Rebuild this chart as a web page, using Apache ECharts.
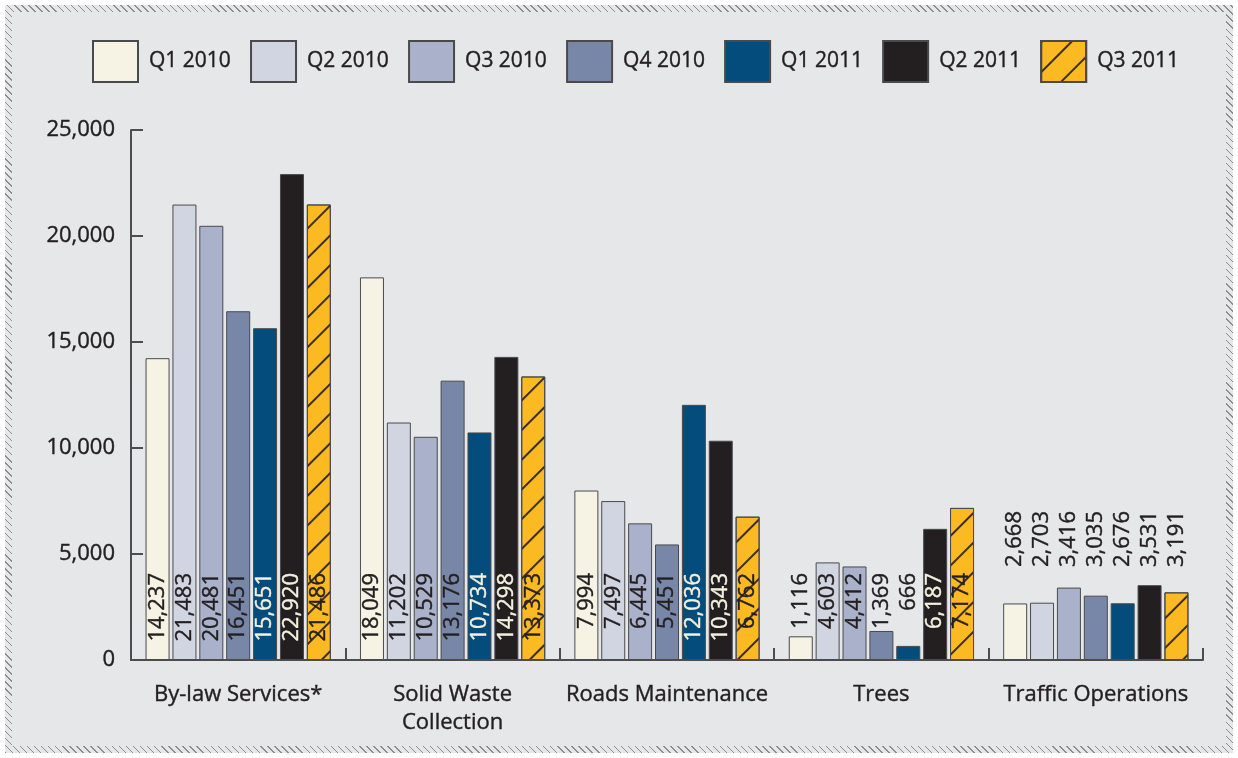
<!DOCTYPE html>
<html>
<head>
<meta charset="utf-8">
<script src="https://cdn.jsdelivr.net/npm/echarts@6/dist/echarts.min.js"></script>
<style>
  html, body { margin: 0; padding: 0; background: #ffffff; }
  #panel {
    position: absolute; left: 5px; top: 5px; width: 1228px; height: 748px;
    background: #e6e7e9;
  }
  #edge {
    position: absolute; left: 5px; top: 5px; width: 1228px; height: 748px;
    box-sizing: border-box;
    border: 7px solid transparent;
    border-image: repeating-linear-gradient(45deg, #8d8d8f 0 1px, transparent 1px 5px) 7;
  }
  #chart { position: absolute; left: 0; top: 0; width: 1238px; height: 758px; }
</style>
</head>
<body>
<div id="panel"></div>
<div id="edge"></div>
<div id="chart"></div>
<script>
// Service request counts by division, per quarter
const categories = ['By-law Services*', 'Solid Waste\nCollection', 'Roads Maintenance', 'Trees', 'Traffic Operations'];
const quarterNames = ['Q1 2010', 'Q2 2010', 'Q3 2010', 'Q4 2010', 'Q1 2011', 'Q2 2011', 'Q3 2011'];

const q1_2010 = [14237, 18049, 7994, 1116, 2668];
const q2_2010 = [21483, 11202, 7497, 4603, 2703];
const q3_2010 = [20481, 10529, 6445, 4412, 3416];
const q4_2010 = [16451, 13176, 5451, 1369, 3035];
const q1_2011 = [15651, 10734, 12036, 666, 2676];
const q2_2011 = [22920, 14298, 10343, 6187, 3531];
const q3_2011 = [21486, 13373, 6762, 7174, 3191];

const yMin = 0, yMax = 25000, yStep = 5000;

// Styling
const FONT = '"Open Sans", "Noto Sans", sans-serif';
const INK = '#231f20';
const CREAM = '#f4f0de';
const fills = ['#f6f3e4', '#d1d5e1', '#aab1cb', '#7886a8', '#034c7c', '#231f20', '#fbb922'];
const darkFill = [false, false, false, false, true, true, false];
// value-label anchor height above the baseline (px) and which end of the text sits there:
// 'hang' = text runs down from the anchor, 'stand' = text rises from the anchor
const labelAnchor = [87, 87, 87, 87, 93];
const labelMode = ['hang', 'hang', 'hang', 'hang', 'stand'];
const plotHeight = 530;

const quarterValues = [q1_2010, q2_2010, q3_2010, q4_2010, q1_2011, q2_2011, q3_2011];

const fmt = v => v.toLocaleString('en-US');

// slightly heavier glyphs via a hairline outline in the text's own colour
const ink = (color, extra) => Object.assign({
  fontFamily: FONT, color: color, textBorderColor: color, textBorderWidth: 0.4
}, extra || {});

const hatch = {
  symbol: 'rect',
  symbolSize: 1,
  dashArrayX: [1, 0],
  dashArrayY: [2, 19],
  rotation: -Math.PI / 4,
  color: 'rgba(35,31,32,0.9)'
};

const series = quarterValues.map((vals, si) => ({
  name: quarterNames[si],
  type: 'bar',
  barWidth: 24,
  barGap: '12%',
  barCategoryGap: '11%',
  itemStyle: Object.assign({
    color: fills[si],
    borderColor: '#4a4a4c',
    borderWidth: 1
  }, si === 6 ? { decal: hatch } : {}),
  data: vals.map((v, ci) => {
    const barPx = (v - yMin) / (yMax - yMin) * plotHeight;
    const inside = barPx > labelAnchor[ci];
    const c = darkFill[si] && inside ? CREAM : INK;
    return {
      value: v,
      label: {
        distance: labelAnchor[ci],
        align: labelMode[ci] === 'hang' ? 'right' : 'left',
        color: c,
        textBorderColor: c
      }
    };
  }),
  label: ink(INK, {
    show: true,
    position: 'insideBottom',
    rotate: 90,
    verticalAlign: 'middle',
    fontSize: 22,
    formatter: p => fmt(p.value)
  })
}));

const chart = echarts.init(document.getElementById('chart'), null, { renderer: 'canvas' });
chart.setOption({
  backgroundColor: 'transparent',
  animation: false,
  aria: { enabled: true, decal: { show: false } },
  legend: {
    data: quarterNames,
    left: 92,
    top: 40,
    padding: 0,
    icon: 'rect',
    itemWidth: 45,
    itemHeight: 41,
    itemGap: 19,
    textStyle: ink(INK, { fontSize: 21, padding: [3, 0, 0, 6] })
  },
  grid: { left: 131, right: 35, top: 130, bottom: 98, containLabel: false },
  xAxis: {
    type: 'category',
    data: categories,
    axisLine: { lineStyle: { color: '#4d4d4f', width: 2 } },
    axisTick: { show: true, inside: true, length: 12, lineStyle: { color: '#4d4d4f', width: 2 } },
    axisLabel: ink(INK, { interval: 0, margin: 21, fontSize: 22, lineHeight: 28 })
  },
  yAxis: {
    type: 'value',
    min: yMin,
    max: yMax,
    interval: yStep,
    splitLine: { show: false },
    axisLine: { show: true, lineStyle: { color: '#4d4d4f', width: 2 } },
    axisTick: { show: true, inside: true, length: 12, lineStyle: { color: '#4d4d4f', width: 2 } },
    axisLabel: ink(INK, { margin: 16, fontSize: 22, formatter: v => fmt(v) })
  },
  series: series
});
</script>
</body>
</html>
